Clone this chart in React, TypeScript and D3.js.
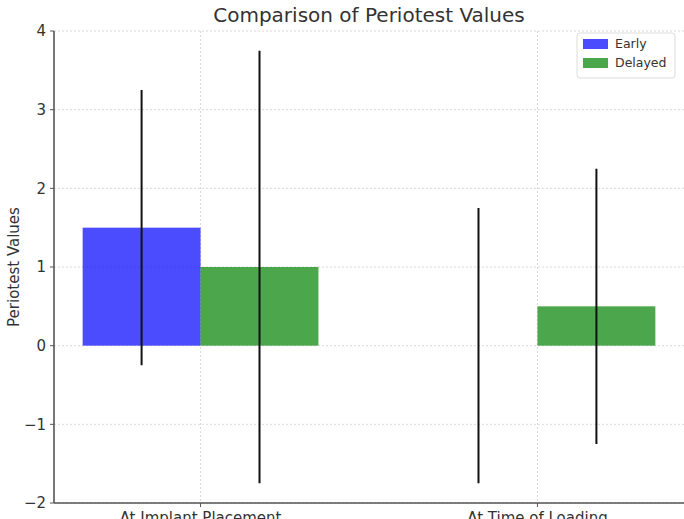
import React, { useEffect, useRef } from 'react';
import * as d3 from 'd3';

const categories = ['At Implant Placement', 'At Time of Loading'];
const seriesNames = ['Early', 'Delayed'];
const earlyValues = [1.5, 0];
const delayedValues = [1.0, 0.5];
const earlyErrors = [1.75, 1.75];
const delayedErrors = [2.75, 1.75];
const yTicks = [-2, -1, 0, 1, 2, 3, 4];
const colors = ['rgba(0,0,255,0.7)', 'rgba(0,128,0,0.7)'];

const App: React.FC = () => {
    const svgRef = useRef<SVGSVGElement>(null);

    useEffect(() => {
        document.body.style.margin = '0';
        if (!svgRef.current) return;
        const svg = d3.select(svgRef.current);
        svg.selectAll('*').remove();

        const font = 'DejaVu Sans, sans-serif';
        const margin = { left: 54, top: 31, right: 0, bottom: 16 };
        const width = 684 - margin.left - margin.right;
        const height = 503 - margin.top;
        const barWidth = 0.35;

        // matplotlib-like linear x axis with 5% margin
        const xScale = d3.scaleLinear()
            .domain([-0.435, 1.435])
            .range([0, width]);

        const yScale = d3.scaleLinear()
            .domain([-2, 4])
            .range([height, 0]);

        const g = svg.append('g')
            .attr('transform', `translate(${margin.left},${margin.top})`);

        // Grid
        g.selectAll('line.hgrid')
            .data(yTicks)
            .enter()
            .append('line')
            .attr('x1', 0)
            .attr('x2', width)
            .attr('y1', d => yScale(d))
            .attr('y2', d => yScale(d))
            .attr('stroke', '#cfcfcf')
            .attr('stroke-width', 0.8)
            .attr('stroke-dasharray', '2,2');

        g.selectAll('line.vgrid')
            .data(categories)
            .enter()
            .append('line')
            .attr('x1', (_, i) => xScale(i))
            .attr('x2', (_, i) => xScale(i))
            .attr('y1', 0)
            .attr('y2', height)
            .attr('stroke', '#cfcfcf')
            .attr('stroke-width', 0.8)
            .attr('stroke-dasharray', '2,2');

        // Bars
        const series = [earlyValues, delayedValues];
        const errors = [earlyErrors, delayedErrors];
        series.forEach((vals, s) => {
            const offset = s === 0 ? -barWidth : 0;
            g.selectAll(`rect.s${s}`)
                .data(vals)
                .enter()
                .append('rect')
                .attr('x', (_, i) => xScale(i + offset))
                .attr('width', xScale(barWidth) - xScale(0))
                .attr('y', d => Math.min(yScale(d), yScale(0)))
                .attr('height', d => Math.abs(yScale(d) - yScale(0)))
                .attr('fill', colors[s]);
        });

        // Error bars
        series.forEach((vals, s) => {
            const center = s === 0 ? -barWidth / 2 : barWidth / 2;
            g.selectAll(`line.err${s}`)
                .data(vals)
                .enter()
                .append('line')
                .attr('x1', (_, i) => xScale(i + center))
                .attr('x2', (_, i) => xScale(i + center))
                .attr('y1', (d, i) => yScale(d - errors[s][i]))
                .attr('y2', (d, i) => yScale(d + errors[s][i]))
                .attr('stroke', '#111')
                .attr('stroke-width', 2);
        });

        // Spines
        g.append('line')
            .attr('x1', 0).attr('x2', 0)
            .attr('y1', 0).attr('y2', height)
            .attr('stroke', '#555').attr('stroke-width', 1.6);
        g.append('line')
            .attr('x1', 0).attr('x2', width)
            .attr('y1', height).attr('y2', height)
            .attr('stroke', '#555').attr('stroke-width', 1.6);

        // Y ticks
        yTicks.forEach(t => {
            g.append('line')
                .attr('x1', -4).attr('x2', 0)
                .attr('y1', yScale(t)).attr('y2', yScale(t))
                .attr('stroke', '#555').attr('stroke-width', 1);
            g.append('text')
                .attr('x', -8)
                .attr('y', yScale(t))
                .attr('dy', '0.35em')
                .attr('text-anchor', 'end')
                .attr('font-family', font)
                .attr('font-size', 15)
                .attr('fill', '#333')
                .text(t < 0 ? `\u2212${Math.abs(t)}` : `${t}`);
        });

        // X ticks
        categories.forEach((c, i) => {
            g.append('line')
                .attr('x1', xScale(i)).attr('x2', xScale(i))
                .attr('y1', height).attr('y2', height + 4)
                .attr('stroke', '#555').attr('stroke-width', 1);
            g.append('text')
                .attr('x', xScale(i))
                .attr('y', height + 20)
                .attr('text-anchor', 'middle')
                .attr('font-family', font)
                .attr('font-size', 15)
                .attr('fill', '#333')
                .text(c);
        });

        // Y label
        svg.append('text')
            .attr('transform', `translate(19,${margin.top + height / 2}) rotate(-90)`)
            .attr('text-anchor', 'middle')
            .attr('font-family', font)
            .attr('font-size', 15)
            .attr('fill', '#333')
            .text('Periotest Values');

        // Title
        svg.append('text')
            .attr('x', margin.left + width / 2)
            .attr('y', 22)
            .attr('text-anchor', 'middle')
            .attr('font-family', font)
            .attr('font-size', 20)
            .attr('fill', '#333')
            .text('Comparison of Periotest Values');

        // Legend
        const legend = svg.append('g').attr('transform', 'translate(577,33)');
        legend.append('rect')
            .attr('width', 98).attr('height', 45)
            .attr('rx', 3)
            .attr('fill', 'white')
            .attr('fill-opacity', 0.8)
            .attr('stroke', '#ddd');
        seriesNames.forEach((name, i) => {
            legend.append('rect')
                .attr('x', 6).attr('y', 6 + i * 19)
                .attr('width', 25).attr('height', 10)
                .attr('fill', colors[i]);
            legend.append('text')
                .attr('x', 38).attr('y', 11 + i * 19)
                .attr('dy', '0.35em')
                .attr('font-family', font)
                .attr('font-size', 12.5)
                .attr('fill', '#333')
                .text(name);
        });
    }, []);

    return <svg ref={svgRef} width={684} height={519} style={{ display: 'block' }} />;
};

export default App;
